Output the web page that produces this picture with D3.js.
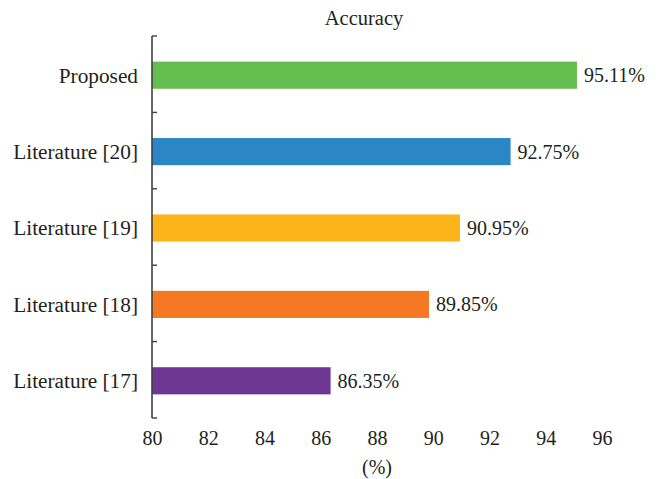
<!DOCTYPE html>
<html>
<head>
<meta charset="utf-8">
<script src="https://cdn.jsdelivr.net/npm/d3@7"></script>
<style>
  html, body { margin: 0; padding: 0; background: #fff; }
  svg { display: block; }
  text { font-family: "Liberation Serif", "Tinos", "Times New Roman", "Noto Serif", "DejaVu Serif", serif; fill: #231f20; }
</style>
</head>
<body>
<svg id="chart" width="658" height="479"></svg>
<script>
// Accuracy per method (percent)
const categories = ["Proposed", "Literature [20]", "Literature [19]", "Literature [18]", "Literature [17]"];
const values = [95.11, 92.75, 90.95, 89.85, 86.35];
const valueLabels = ["95.11%", "92.75%", "90.95%", "89.85%", "86.35%"];
const colors = ["#66bd4f", "#2b86c5", "#fdb41b", "#f57824", "#6c3692"];
const xTicks = [80, 82, 84, 86, 88, 90, 92, 94, 96];

const svg = d3.select("#chart");
const plotLeft = 152, plotRight = 602, plotTop = 36, plotBottom = 418;

const x = d3.scaleLinear().domain([80, 96]).range([plotLeft, plotRight]);
const y = d3.scaleBand().domain(categories).range([plotTop + 1, plotBottom + 1]).paddingInner(0.645).paddingOuter(0.3225);

// Title
svg.append("text")
  .attr("x", 364).attr("y", 25)
  .attr("text-anchor", "middle").attr("font-size", 20.5)
  .text("Accuracy");

// Bars
svg.selectAll("rect.bar").data(values).join("rect")
  .attr("class", "bar")
  .attr("x", x(80))
  .attr("y", (d, i) => y(categories[i]))
  .attr("width", d => x(d) - x(80))
  .attr("height", y.bandwidth())
  .attr("fill", (d, i) => colors[i]);

// Value labels
svg.selectAll("text.val").data(values).join("text")
  .attr("class", "val")
  .attr("x", d => x(d) + 7)
  .attr("y", (d, i) => y(categories[i]) + y.bandwidth() / 2)
  .attr("dy", "0.35em")
  .attr("font-size", 20)
  .text((d, i) => valueLabels[i]);

// Category axis: ticks between bands, pointing right
const edges = d3.range(categories.length + 1).map(i => plotTop + i * (plotBottom - plotTop) / categories.length);
svg.append("line")
  .attr("x1", plotLeft).attr("x2", plotLeft).attr("y1", plotTop).attr("y2", plotBottom)
  .attr("stroke", "#404040").attr("stroke-width", 1.6);
svg.selectAll("line.ytick").data(edges).join("line")
  .attr("class", "ytick")
  .attr("x1", plotLeft).attr("x2", plotLeft + 5)
  .attr("y1", d => d).attr("y2", d => d)
  .attr("stroke", "#404040").attr("stroke-width", 1.4);

svg.selectAll("text.cat").data(categories).join("text")
  .attr("class", "cat")
  .attr("x", plotLeft - 14)
  .attr("y", d => y(d) + y.bandwidth() / 2)
  .attr("dy", "0.35em")
  .attr("text-anchor", "end")
  .attr("font-size", 21.3)
  .text(d => d);

// Value axis: labels only
const xAxis = d3.axisBottom(x).tickValues(xTicks).tickSize(0).tickPadding(0).tickFormat(d3.format("d"));
const gx = svg.append("g").attr("transform", `translate(0, ${plotBottom + 27})`).call(xAxis);
gx.select(".domain").remove();
gx.selectAll("text")
  .attr("font-size", 20)
  .attr("font-family", "'Liberation Serif', Tinos, 'Times New Roman', serif")
  .attr("fill", "#231f20")
  .attr("dy", 0);

svg.append("text")
  .attr("x", (plotLeft + plotRight) / 2).attr("y", 474)
  .attr("text-anchor", "middle").attr("font-size", 20)
  .text("(%)");
</script>
</body>
</html>
